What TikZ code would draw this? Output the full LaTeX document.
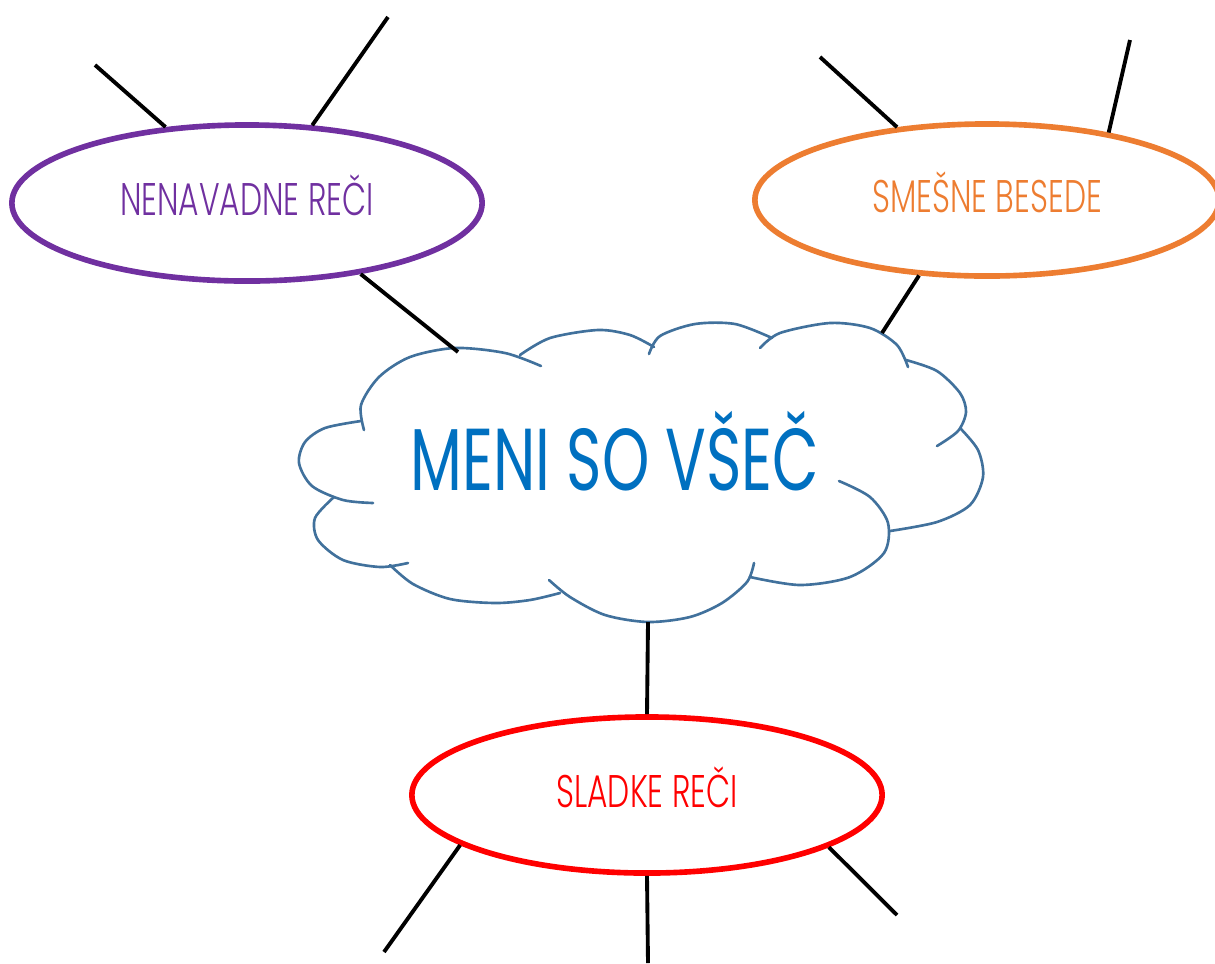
\documentclass[tikz,border=0pt]{standalone}
\usepackage{fontspec}
\usepackage{xcolor}
\usepackage{tikz}
\usetikzlibrary{shapes.geometric}

\newfontfamily\penfont[FakeStretch=0.685]{Poppins Light}
\newfontfamily\cloudfont[FakeStretch=0.685]{Poppins}

\definecolor{vijolicna}{HTML}{7030A0}
\definecolor{oranzna}{HTML}{ED7D31}
\definecolor{rdeca}{HTML}{FF0000}
\definecolor{oblak}{HTML}{41719C}
\definecolor{modra}{HTML}{0070C0}

\begin{document}
\begin{tikzpicture}[x=0.01cm, y=-0.01cm]
		\tikzstyle{bubble}=[ellipse, draw, line width=1.6pt, minimum width=4.7cm, minimum height=1.56cm, inner sep=0pt, text height=0.32cm, text depth=0.08cm, font=\penfont\fontsize{13}{15}\selectfont]
		\tikzstyle{spoke}=[black, line width=1.1pt]
		\tikzstyle{cloudline}=[oblak, line width=0.75pt, line cap=round]
		
		\useasboundingbox (0,0) rectangle (1215,963);
		
		% oblak
		\draw[cloudline] plot[smooth] coordinates {(364,430) (361,405) (379,377) (410,357) (455,348) (505,353) (541,366)};
		\draw[cloudline] plot[smooth] coordinates {(520,355) (550,338) (598,330) (630,335) (654,347)};
		\draw[cloudline] plot[smooth] coordinates {(649,354) (660,336) (695,324) (735,324) (772,338)};
		\draw[cloudline] plot[smooth] coordinates {(760,348) (780,333) (830,323) (870,328) (897,345) (908,367)};
		\draw[cloudline] plot[smooth] coordinates {(906,360) (937,371) (960,393) (966,412) (958,431) (937,446)};
		\draw[cloudline] plot[smooth] coordinates {(960,428) (978,450) (983,477) (970,505) (937,522) (890,531)};
		\draw[cloudline] plot[smooth] coordinates {(839,481) (870,497) (888,523) (884,553) (850,577) (800,585) (750,577)};
		\draw[cloudline] plot[smooth] coordinates {(754,563) (747,582) (722,603) (690,617) (648,622) (605,615) (570,597) (549,580)};
		\draw[cloudline] plot[smooth] coordinates {(560,593) (530,600) (495,603) (450,599) (413,584) (390,565)};
		\draw[cloudline] plot[smooth] coordinates {(408,563) (380,567) (343,560) (318,540) (315,518) (334,497)};
		\draw[cloudline] plot[smooth] coordinates {(373,503) (343,500) (312,486) (299,463) (305,442) (325,428) (361,421)};
		
		\node[font=\cloudfont\fontsize{25}{30}\selectfont, text=modra, inner sep=0pt, text height=0.62cm, text depth=0pt] (meni) at (615,459) {MENI SO VŠEČ};
		
		\coordinate (c1) at (458,352);
		\coordinate (c2) at (882,333);
		\coordinate (c3) at (648,622);
		
		\node[bubble, draw=vijolicna, text=vijolicna] (nr) at (247,203) {NENAVADNE REČI};
		\node[bubble, draw=oranzna, text=oranzna, minimum width=4.64cm, minimum height=1.52cm] (sb) at (987,200) {SMEŠNE BESEDE};
		\node[bubble, draw=rdeca, text=rdeca] (sr) at (647,795) {SLADKE REČI};
		
		\coordinate (e1) at (95,65);
		\coordinate (e2) at (388,17);
		\coordinate (e3) at (820,57);
		\coordinate (e4) at (1130,40);
		\coordinate (e5) at (384,952);
		\coordinate (e6) at (648,963);
		\coordinate (e7) at (897,915);
		
		\path[spoke]
		(nr.137)  edge (e1)
		(nr.50)   edge (e2)
		(nr.-32)  edge (c1)
		(sb.141)  edge (e3)
		(sb.29)   edge (e4)
		(sb.-132) edge (c2)
		(c3)      edge (sr.90)
		(sr.195)  edge (e5)
		(sr.-90)  edge (e6)
		(sr.-16)  edge (e7)
		;
\end{tikzpicture}
\end{document}
